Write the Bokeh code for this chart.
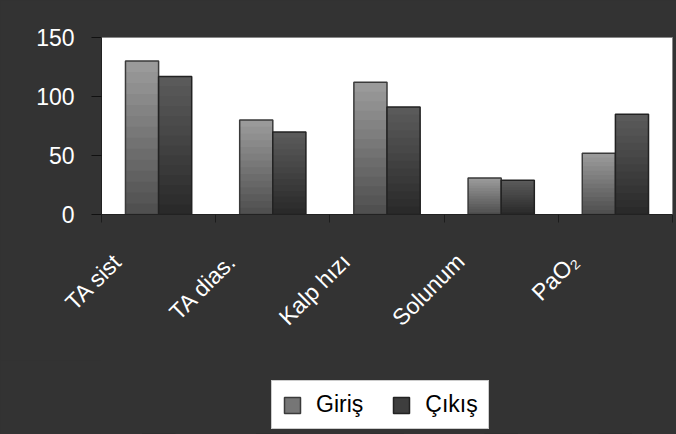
import math
from bokeh.plotting import figure
from bokeh.layouts import column
from bokeh.models import (ColumnDataSource, Range1d, FixedTicker,
                          LinearAxis, Legend, LegendItem)
from bokeh.transform import dodge
from bokeh.embed import file_html
from bokeh.resources import INLINE

categories = ["TA sist", "TA dias.", "Kalp hızı", "Solunum", "PaO₂"]
giris = [130, 80, 112, 31, 52]
cikis = [117, 70, 91, 29, 85]
series_names = ["Giriş", "Çıkış"]
y_ticks = [0, 50, 100, 150]

BG = "#333333"
FONT = "Liberation Sans"
LABEL_SHIFT = 0.358   # label shift to the left, in category widths
STEPS = 14            # shading steps of the bar gradient


def ramp(c_top, c_bot, k, n):
    t = k / (n - 1)
    a = [int(c_top[i:i + 2], 16) for i in (1, 3, 5)]
    b = [int(c_bot[i:i + 2], 16) for i in (1, 3, 5)]
    return "#" + "".join(f"{round(x + (y - x) * t):02x}" for x, y in zip(a, b))


n = len(categories)
centers = [i + 0.5 for i in range(n)]
bounds = list(range(n + 1))
src = ColumnDataSource(dict(xc=centers, cat=categories, giris=giris, cikis=cikis))

# ---------------- main chart ----------------
p = figure(width=676, height=360, x_range=Range1d(0, n),
           y_range=Range1d(0, 150), output_backend="svg", toolbar_location=None,
           background_fill_color="white", border_fill_color=BG,
           min_border_left=101, min_border_right=4, min_border_top=37,
           min_border_bottom=146)
p.outline_line_color = "#888888"
p.grid.visible = False

series = [("giris", -0.145, "#9a9a9a", "#505050", "#3a3a3a"),
          ("cikis", 0.145, "#5a5a5a", "#2a2a2a", "#222222")]
for col, off, c_top, c_bot, edge in series:
    # shorter, darker layers drawn over the lower part of each bar
    for k in range(STEPS):
        frac = (STEPS - k) / STEPS
        src.data[f"{col}_{k}"] = [v * frac for v in src.data[col]]
        p.vbar(x=dodge("xc", off), top=f"{col}_{k}", width=0.29, source=src,
               fill_color=ramp(c_top, c_bot, k, STEPS), line_color=None)
    p.vbar(x=dodge("xc", off), top=col, width=0.29, source=src,
           fill_color=None, line_color=edge, line_width=1.5)

# y axis
ya = p.yaxis[0]
ya.ticker = FixedTicker(ticks=y_ticks)
ya.minor_tick_line_color = None
ya.major_tick_in = 0
ya.major_tick_out = 10
ya.major_tick_line_color = "#111111"
ya.axis_line_color = "#222222"
ya.major_label_text_color = "white"
ya.major_label_text_font = FONT
ya.major_label_text_font_size = "23px"
ya.major_label_standoff = 17

# category labels on a shifted index range; boundary ticks as minor ticks
p.xaxis[0].visible = False
p.extra_x_ranges = {"lab": Range1d(LABEL_SHIFT, n + LABEL_SHIFT)}
lab_axis = LinearAxis(x_range_name="lab",
                      ticker=FixedTicker(ticks=centers,
                                         minor_ticks=[b + LABEL_SHIFT for b in bounds]),
                      major_label_overrides={c: name for c, name in zip(centers, categories)},
                      major_label_orientation=math.pi / 4,
                      major_label_standoff=35,
                      major_label_text_color="white",
                      major_label_text_font=FONT,
                      major_label_text_font_size="23px",
                      major_tick_line_color=None, major_tick_out=0, major_tick_in=0,
                      minor_tick_line_color="#1c1c1c", minor_tick_out=8, minor_tick_in=0,
                      axis_line_color="#222222")
p.add_layout(lab_axis, "below")

# ---------------- legend strip ----------------
q = figure(width=676, height=74, x_range=Range1d(0, n), y_range=Range1d(500, 501),
           output_backend="svg", toolbar_location=None,
           x_axis_type=None, y_axis_type=None,
           background_fill_color=BG, border_fill_color=BG,
           min_border_left=101, min_border_right=4, min_border_top=0, min_border_bottom=0)
q.outline_line_color = BG
q.outline_line_width = 3
q.grid.visible = False
# key glyphs share the data source; the bars lie far outside this strip's y range
k1 = q.vbar(x="xc", top="giris", width=0.29, source=src,
            fill_color="#767676", line_color="#3a3a3a", line_width=1.5)
k2 = q.vbar(x="xc", top="cikis", width=0.29, source=src,
            fill_color="#3e3e3e", line_color="#222222", line_width=1.5)
legend = Legend(items=[LegendItem(label=series_names[0], renderers=[k1]),
                       LegendItem(label=series_names[1], renderers=[k2])],
                orientation="horizontal", location=(170, 5),
                glyph_width=20, glyph_height=20, label_standoff=14, spacing=28,
                padding=10, label_height=27, margin=0,
                label_text_font=FONT, label_text_font_size="23px",
                label_text_color="black", background_fill_color="white",
                background_fill_alpha=1, border_line_color="#999999")
q.add_layout(legend, "center")

layout = column(p, q, spacing=0, styles={"background-color": BG})
open("out.html", "w").write(file_html(layout, INLINE))
